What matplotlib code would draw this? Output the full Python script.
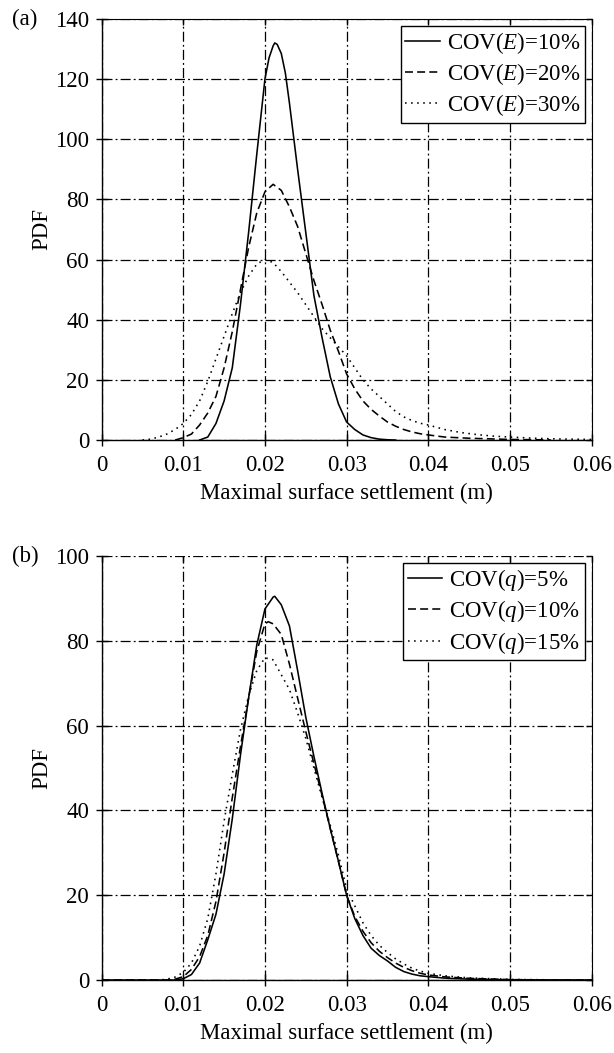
import matplotlib
matplotlib.use("Agg")
import matplotlib.pyplot as plt

plt.rcParams['font.family'] = ['Liberation Serif', 'DejaVu Serif']
plt.rcParams['mathtext.fontset'] = 'custom'
plt.rcParams['mathtext.rm'] = 'Liberation Serif'
plt.rcParams['mathtext.it'] = 'Liberation Serif:italic'

FS = 16.5

# ---- panel (a): COV(E) ----
a_x10 = [0.012, 0.013, 0.014, 0.015, 0.016, 0.017, 0.018, 0.019, 0.020, 0.0205,
         0.021, 0.0212, 0.0215, 0.022, 0.0225, 0.023, 0.024, 0.025, 0.026, 0.027,
         0.028, 0.029, 0.030, 0.031, 0.032, 0.033, 0.034, 0.035, 0.036]
a_y10 = [0, 1, 5.5, 13, 24, 45, 69, 95, 120, 127,
         131, 132, 131.5, 128.5, 122, 112, 90, 69, 48, 34,
         21, 12, 6, 3.5, 1.7, 0.8, 0.3, 0.1, 0]

a_x20 = [0.009, 0.010, 0.011, 0.012, 0.013, 0.014, 0.015, 0.016, 0.017, 0.018,
         0.019, 0.020, 0.021, 0.022, 0.023, 0.024, 0.025, 0.026, 0.027, 0.028,
         0.029, 0.030, 0.031, 0.032, 0.033, 0.034, 0.035, 0.036, 0.037, 0.038,
         0.039, 0.040, 0.042, 0.045, 0.050, 0.055]
a_y20 = [0, 0.8, 2, 5, 9, 14.5, 24, 36, 50, 64,
         75.5, 82.5, 85, 83, 77.5, 71, 62, 53, 45, 36.5,
         29.5, 22, 17, 13, 10.2, 8, 6, 4.6, 3.5, 2.7,
         2.1, 1.7, 1.0, 0.6, 0.2, 0.05]

a_x30 = [0.005, 0.006, 0.007, 0.008, 0.009, 0.010, 0.011, 0.012, 0.013, 0.014,
         0.015, 0.016, 0.017, 0.018, 0.019, 0.020, 0.021, 0.022, 0.023, 0.024,
         0.025, 0.026, 0.027, 0.028, 0.029, 0.030, 0.031, 0.032, 0.033, 0.034,
         0.035, 0.036, 0.037, 0.038, 0.039, 0.040, 0.042, 0.044, 0.046, 0.048,
         0.050, 0.053, 0.056, 0.060]
a_y30 = [0, 0.3, 1, 2, 3.5, 5.5, 8.5, 13, 19.5, 27,
         34.5, 42, 49, 54.5, 58.5, 60, 59, 56, 52.5, 49,
         45, 41, 37, 34, 31, 28, 24, 20, 17, 14.5,
         12, 9.5, 7.7, 6.5, 5.6, 5, 3.5, 2.5, 1.8, 1.3,
         1.0, 0.6, 0.35, 0.2]

# ---- panel (b): COV(q) ----
b_x5 = [0.0, 0.009, 0.010, 0.011, 0.012, 0.013, 0.014, 0.015, 0.016, 0.017,
        0.018, 0.019, 0.020, 0.021, 0.0212, 0.022, 0.023, 0.024, 0.025, 0.026,
        0.027, 0.028, 0.029, 0.030, 0.031, 0.032, 0.033, 0.034, 0.035, 0.036,
        0.037, 0.038, 0.039, 0.040, 0.042, 0.045, 0.050, 0.060]
b_y5 = [0, 0, 0.3, 1.3, 4, 9.5, 15.5, 25, 38, 53,
        66.5, 79, 87.5, 90.3, 90.5, 88.5, 83.5, 73, 62, 52.7,
        44, 35.7, 28, 20, 14.5, 10.5, 7.5, 5.8, 4.5, 3,
        2, 1.4, 1.0, 0.8, 0.45, 0.2, 0.05, 0]

b_x10 = [0.0, 0.008, 0.009, 0.010, 0.011, 0.012, 0.013, 0.014, 0.015, 0.016,
         0.017, 0.018, 0.019, 0.020, 0.0204, 0.021, 0.022, 0.023, 0.024, 0.025,
         0.026, 0.027, 0.028, 0.029, 0.030, 0.031, 0.032, 0.033, 0.034, 0.035,
         0.036, 0.037, 0.038, 0.039, 0.040, 0.042, 0.045, 0.050, 0.055, 0.060]
b_y10 = [0, 0, 0.2, 0.8, 2.5, 5.5, 10.5, 18.5, 30, 43,
         55, 66.5, 77.5, 84, 84.5, 84, 81.5, 74.5, 66.5, 58.6,
         51, 43.5, 35.7, 28, 20, 15, 11.5, 8.8, 6.8, 5.3,
         4, 3, 2.2, 1.6, 1.2, 0.75, 0.4, 0.1, 0.02, 0]

b_x15 = [0.0, 0.007, 0.008, 0.009, 0.010, 0.011, 0.012, 0.013, 0.014, 0.015,
         0.016, 0.017, 0.018, 0.019, 0.020, 0.021, 0.022, 0.023, 0.024, 0.025,
         0.026, 0.027, 0.028, 0.029, 0.030, 0.031, 0.032, 0.033, 0.034, 0.035,
         0.036, 0.037, 0.038, 0.039, 0.040, 0.042, 0.045, 0.050, 0.055, 0.060]
b_y15 = [0, 0, 0.2, 0.7, 1.8, 4, 8, 14.5, 25, 37.5,
         48.5, 59, 67, 73, 76, 75.5, 72, 68.5, 63, 57,
         50, 43, 36.5, 29.5, 21.5, 17.5, 13.5, 10.5, 8.2, 6.5,
         5, 3.8, 2.8, 2.1, 1.6, 1.0, 0.5, 0.15, 0.05, 0]

x_ticks = [0, 0.01, 0.02, 0.03, 0.04, 0.05, 0.06]
x_tick_labels = ["0", "0.01", "0.02", "0.03", "0.04", "0.05", "0.06"]
a_y_ticks = [0, 20, 40, 60, 80, 100, 120, 140]
b_y_ticks = [0, 20, 40, 60, 80, 100]

a_labels = ["COV($\\mathit{E}$)=10%", "COV($\\mathit{E}$)=20%", "COV($\\mathit{E}$)=30%"]
b_labels = ["COV($\\mathit{q}$)=5%", "COV($\\mathit{q}$)=10%", "COV($\\mathit{q}$)=15%"]

STYLES = ["-", (0, (5, 2.6)), (0, (1, 2.8))]
GRID_LS = (0, (8, 2.5, 1.5, 2.5))


def panel(ax, series, labels, yticks, top_spine):
    for (x, y), lab, ls in zip(series, labels, STYLES):
        ax.plot(x, y, color="black", lw=1.15, linestyle=ls, label=lab)
    ax.set_xlim(0, 0.06)
    ax.set_ylim(0, yticks[-1])
    ax.set_xticks(x_ticks)
    ax.set_xticklabels(x_tick_labels)
    ax.set_yticks(yticks)
    ax.set_axisbelow(True)
    ax.grid(True, color="black", linestyle=GRID_LS, linewidth=0.9)
    ax.tick_params(direction="inout", length=8, width=1, labelsize=FS, pad=5)
    ax.tick_params(axis="x", pad=7)
    for s in ax.spines.values():
        s.set_linewidth(1.0)
    ax.spines["top"].set_visible(False)
    secx = ax.secondary_xaxis("top")
    secx.set_xticks(x_ticks)
    secx.tick_params(direction="in", length=4, width=1, labeltop=False)
    secx.spines["top"].set_visible(top_spine)
    secy = ax.secondary_yaxis("right")
    secy.set_yticks(yticks)
    secy.tick_params(direction="in", length=4, width=1, labelright=False)
    ax.spines["right"].set_visible(False)
    ax.set_xlabel("Maximal surface settlement (m)", fontsize=FS, labelpad=5)
    ax.set_ylabel("PDF", fontsize=FS, labelpad=2)
    leg = ax.legend(loc="upper right", fontsize=FS, frameon=True, fancybox=False,
                    handlelength=1.5, handletextpad=0.3, labelspacing=0.22,
                    borderaxespad=0.3, borderpad=0.2)
    leg.get_frame().set_edgecolor("black")
    leg.get_frame().set_linewidth(1.0)
    leg.get_frame().set_alpha(1)


fig = plt.figure(figsize=(6.14, 10.53), dpi=100)
ax1 = fig.add_axes([0.1655, 0.5821, 0.798, 0.400])
ax2 = fig.add_axes([0.1655, 0.0693, 0.798, 0.4027])

panel(ax1, [(a_x10, a_y10), (a_x20, a_y20), (a_x30, a_y30)], a_labels, a_y_ticks, True)
panel(ax2, [(b_x5, b_y5), (b_x10, b_y10), (b_x15, b_y15)], b_labels, b_y_ticks, False)

fig.text(0.019, 0.982, "(a)", fontsize=FS, va="center", ha="left")
fig.text(0.019, 0.472, "(b)", fontsize=FS, va="center", ha="left")

fig.savefig("out.png", dpi=100)
